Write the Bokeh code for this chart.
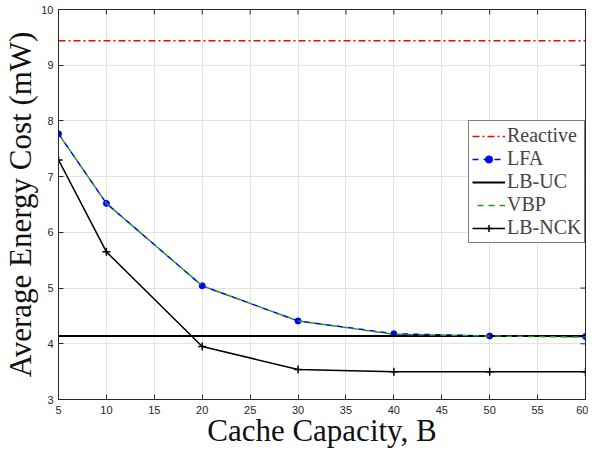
import math
from bokeh.plotting import figure
from bokeh.models import Legend, LegendItem, FixedTicker, Range1d
from bokeh.embed import file_html
from bokeh.resources import INLINE

x = [5, 10, 20, 30, 40, 50, 60]
reactive = [9.44] * 7
lfa = [7.77, 6.52, 5.04, 4.41, 4.18, 4.14, 4.13]
lb_uc = [4.14] * 7
vbp = [7.77, 6.52, 5.04, 4.41, 4.17, 4.14, 4.12]
lb_nck = [7.30, 5.65, 3.95, 3.54, 3.50, 3.50, 3.50]
xticks = [5, 10, 15, 20, 25, 30, 35, 40, 45, 50, 55, 60]
yticks = [3, 4, 5, 6, 7, 8, 9, 10]
xmin, xmax, ymin, ymax = 5, 60, 3, 10

AX = "#262626"
SERIF = "Liberation Serif"

p = figure(width=588, height=450, output_backend="svg", toolbar_location=None,
           x_range=Range1d(xmin, xmax), y_range=Range1d(ymin, ymax),
           min_border_left=58, min_border_right=3, min_border_top=9, min_border_bottom=48,
           x_axis_label="Cache Capacity, B", y_axis_label="Average Energy Cost (mW)")
p.outline_line_color = AX
p.outline_line_width = 1
p.background_fill_color = "white"
p.border_fill_color = "white"

for ax in p.xaxis + p.yaxis:
    ax.major_tick_in = 5
    ax.major_tick_out = 0
    ax.minor_tick_line_color = None
    ax.axis_line_color = AX
    ax.major_tick_line_color = AX
    ax.major_label_text_font = "Liberation Sans"
    ax.major_label_text_font_size = "11px"
    ax.major_label_text_color = AX
    ax.axis_label_text_font = SERIF
    ax.axis_label_text_font_size = "31px"
    ax.axis_label_text_font_style = "normal"
    ax.axis_label_text_color = "#111111"
p.xaxis.ticker = FixedTicker(ticks=xticks)
p.yaxis.ticker = FixedTicker(ticks=yticks)
p.xaxis.major_label_standoff = 6
p.xaxis.axis_label_standoff = -4
p.yaxis.major_label_standoff = 5
p.yaxis.axis_label_standoff = 0

p.grid.grid_line_color = "#e3e3e3"
p.grid.grid_line_width = 1
p.xgrid.ticker = FixedTicker(ticks=xticks)
p.ygrid.ticker = FixedTicker(ticks=yticks)

# inward ticks on the top and right edges of the box
p.scatter(xticks, [ymax] * len(xticks), marker="dash", angle=math.pi / 2, size=10,
          line_color=AX, line_width=1)
p.scatter([xmax] * len(yticks), yticks, marker="dash", size=10,
          line_color=AX, line_width=1)

r_re = p.line(x, reactive, line_color="#ff0000", line_width=1.5, line_dash="7 3 2 3")
r_lfa = p.line(x, lfa, line_color="#0000ff", line_width=1.5, line_dash="6 5")
s_lfa = p.scatter(x, lfa, marker="circle", size=6, fill_color="#0000ff", line_color="#0000ff")
r_uc = p.line(x, lb_uc, line_color="black", line_width=2)
r_vbp = p.line(x, vbp, line_color="#1f9a1f", line_width=1.5, line_dash="6 5", line_dash_offset=6)
r_nck = p.line(x, lb_nck, line_color="black", line_width=1.5)
s_nck = p.scatter(x, lb_nck, marker="cross", size=8, line_color="black", line_width=1.5)

legend = Legend(items=[
    LegendItem(label="Reactive", renderers=[r_re]),
    LegendItem(label="LFA", renderers=[r_lfa, s_lfa]),
    LegendItem(label="LB-UC", renderers=[r_uc]),
    LegendItem(label="VBP", renderers=[r_vbp]),
    LegendItem(label="LB-NCK", renderers=[r_nck, s_nck]),
], location=(410, 156))
legend.label_text_font = SERIF
legend.label_text_font_size = "20px"
legend.label_height = 18
legend.glyph_height = 18
legend.glyph_width = 33
legend.label_standoff = 2
legend.spacing = 0
legend.padding = 3
legend.margin = 0
legend.border_line_color = "black"
legend.border_line_width = 1
legend.background_fill_alpha = 1
p.add_layout(legend, "center")

open("out.html", "w").write(file_html(p, INLINE))
